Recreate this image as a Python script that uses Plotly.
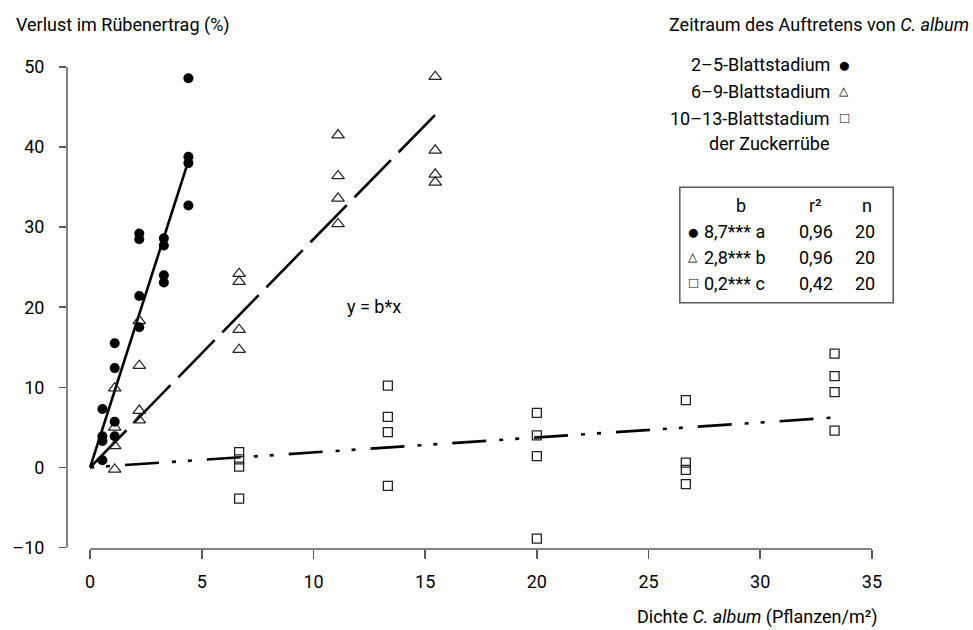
import plotly.graph_objects as go

# ---------------- data ----------------
# 2–5-Blattstadium (filled circles)
circ_x = [0.55, 0.55, 0.55, 0.55, 1.1, 1.1, 1.1, 1.1, 2.2, 2.2, 2.2, 2.2,
          3.3, 3.3, 3.3, 3.3, 4.4, 4.4, 4.4, 4.4]
circ_y = [7.3, 3.9, 3.3, 0.9, 15.5, 12.4, 5.7, 3.9, 29.2, 28.5, 21.4, 17.5,
          28.6, 27.7, 24.0, 23.1, 48.6, 38.8, 38.0, 32.7]
# 6–9-Blattstadium (open triangles)
tri_x = [1.1, 1.1, 1.1, 1.1, 2.2, 2.2, 2.2, 2.2, 6.67, 6.67, 6.67, 6.67,
         11.1, 11.1, 11.1, 11.1, 15.45, 15.45, 15.45, 15.45]
tri_y = [9.9, 5.0, 2.7, -0.25, 18.3, 12.7, 7.1, 5.9, 24.2, 23.2, 17.2, 14.7,
         41.5, 36.4, 33.6, 30.4, 48.8, 39.6, 36.6, 35.6]
# 10–13-Blattstadium (open squares)
sq_x = [6.67, 6.67, 6.67, 6.67, 13.33, 13.33, 13.33, 13.33, 20, 20, 20, 20,
        26.67, 26.67, 26.67, 26.67, 33.33, 33.33, 33.33, 33.33]
sq_y = [1.9, 1.0, 0.1, -3.9, 10.2, 6.3, 4.4, -2.3, 6.8, 4.0, 1.4, -8.9,
        8.4, 0.6, -0.3, -2.1, 14.2, 11.4, 9.4, 4.6]

# regression lines y = b*x (slopes as drawn), drawn from 0 to max density
line_slopes = [8.7, 2.85, 0.187]
line_xmax = [4.4, 15.45, 33.33]

# table texts
stage_labels = ["2–5-Blattstadium", "6–9-Blattstadium", "10–13-Blattstadium"]
stage_symbols = ["●", "△", "□"]
b_labels = ["8,7*** a", "2,8*** b", "0,2*** c"]
r2_labels = ["0,96", "0,96", "0,42"]
n_labels = ["20", "20", "20"]

x_ticks = [0, 5, 10, 15, 20, 25, 30, 35]
y_ticks = [-10, 0, 10, 20, 30, 40, 50]
y_ticktext = ["–10", "0", "10", "20", "30", "40", "50"]

# ---------------- layout geometry ----------------
W, H = 973, 630
L, R, T, B = 61, 88, 55, 81
PW, PH = W - L - R, H - T - B
X0_PX, XSCALE = 84.3, 22.5       # pixel of x=0, px per unit
Y0_PX, YSCALE = 467.4, 8.008     # pixel of y=0, px per unit
x_range = [(L - X0_PX) / XSCALE, (W - R - X0_PX) / XSCALE]
y_range = [(Y0_PX - (H - B)) / YSCALE, (Y0_PX - T) / YSCALE]


def px_x(px):
    return (px - L) / PW


def px_y(py):
    return (H - B - py) / PH


FONT = "Roboto, 'Open Sans', sans-serif"
FS = 18
SYM_SIZES = [21, 12, 15]
AX = "#5a5a5a"

fig = go.Figure()

dashes = ["solid", "52px,11px", "4px,12px,4px,15px,34px,13px"]
for b, xm, d in zip(line_slopes, line_xmax, dashes):
    fig.add_trace(go.Scatter(x=[0, xm], y=[0, b * xm], mode="lines",
                             line=dict(color="black", width=2.6, dash=d),
                             hoverinfo="skip", showlegend=False))

fig.add_trace(go.Scatter(x=sq_x, y=sq_y, mode="markers", showlegend=False,
                         marker=dict(symbol="square-open", size=9, color="#222",
                                     line=dict(width=1.3))))
fig.add_trace(go.Scatter(x=tri_x, y=tri_y, mode="markers", showlegend=False,
                         marker=dict(symbol="triangle-up-open", size=11, color="#222",
                                     line=dict(width=1.2))))
fig.add_trace(go.Scatter(x=circ_x, y=circ_y, mode="markers", showlegend=False,
                         marker=dict(symbol="circle", size=10, color="black")))

fig.update_layout(
    width=W, height=H,
    margin=dict(l=L, r=R, t=T, b=B, pad=0),
    paper_bgcolor="white", plot_bgcolor="white",
    font=dict(family=FONT, size=FS, color="black"),
    xaxis=dict(range=x_range, tickvals=x_ticks, showgrid=False, zeroline=False,
               showline=False, ticks="outside", ticklen=9, tickwidth=1.5,
               tickcolor=AX, ticklabelstandoff=7, fixedrange=True),
    yaxis=dict(range=y_range, tickvals=y_ticks, ticktext=y_ticktext,
               showgrid=False, zeroline=False, showline=False,
               ticks="outside", ticklen=7, tickwidth=1.5, tickcolor=AX,
               ticklabelstandoff=11, fixedrange=True),
    showlegend=False,
)

# axis lines (only over the data extent, like the original)
fig.add_shape(type="line", xref="paper", yref="y", x0=0, x1=0, y0=-10, y1=50,
              line=dict(color=AX, width=1.5))
fig.add_shape(type="line", xref="x", yref="paper", x0=0, x1=35, y0=0, y1=0,
              line=dict(color=AX, width=1.5))

ann = []


def text(px, py, s, xa="center", size=FS):
    ann.append(dict(x=px_x(px), y=px_y(py), xref="paper", yref="paper", text=s,
                    showarrow=False, xanchor=xa, yanchor="middle",
                    font=dict(size=size, family=FONT, color="black")))


text(8, 25, "Verlust im Rübenertrag (%)", "left")
text(972, 25, "Zeitraum des Auftretens von <i>C. album</i>", "right")
leg_y = [65, 91.5, 118]
for lab, sym, ss, yy in zip(stage_labels, stage_symbols, SYM_SIZES, leg_y):
    text(832, yy, lab, "right")
    text(844, yy, sym, "center", ss)
text(832, 143, "der Zuckerrübe", "right")

# table box
fig.add_shape(type="rect", xref="paper", yref="paper",
              x0=px_x(678.3), x1=px_x(893.3), y0=px_y(302.7), y1=px_y(187.3),
              line=dict(color=AX, width=1.5), fillcolor="white", layer="below")
text(740, 205, "b")
text(815, 205, "r²")
text(866.7, 205, "n")
row_y = [231.7, 257.3, 283.3]
for sym, ss, bl, r2, n, yy in zip(stage_symbols, SYM_SIZES, b_labels,
                                  r2_labels, n_labels, row_y):
    text(691.7, yy, sym, "center", ss)
    text(701, yy, bl, "left")
    text(815.5, yy, r2)
    text(864.5, yy, n)

text(370, 306.7, "y = b*x")
text(880, 617, "Dichte <i>C. album</i> (Pflanzen/m²)", "right")

fig.update_layout(annotations=ann)
fig.write_html("out.html",
               config={"displayModeBar": False, "staticPlot": True},
               post_script="document.body.style.margin='0';"
                           "document.body.style.overflow='hidden';")
